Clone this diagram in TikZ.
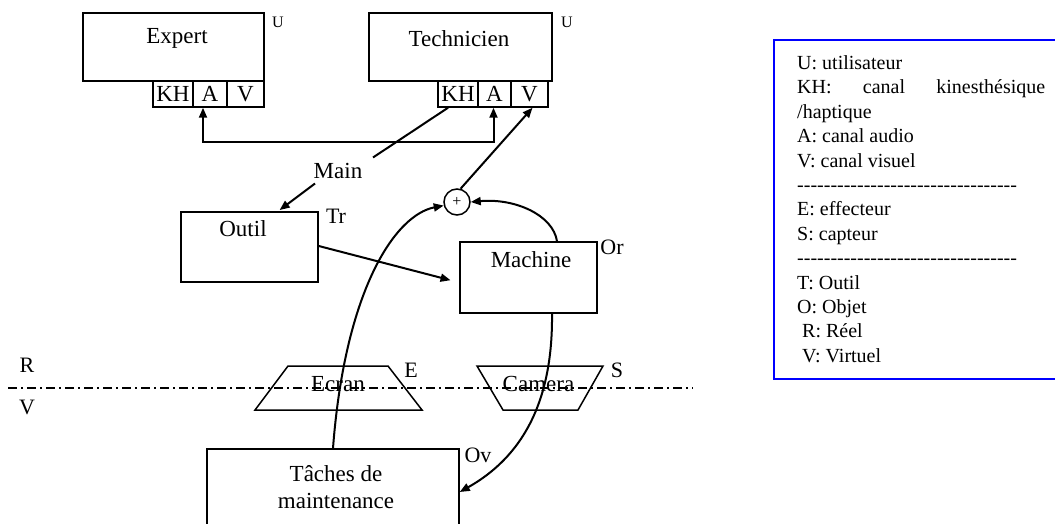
\documentclass[tikz,border=0pt]{standalone}
\usepackage{fontspec}
\setmainfont{Liberation Serif}
\usetikzlibrary{arrows.meta,calc}
\definecolor{legendblue}{RGB}{0,0,255}
\newcount\hycnt
\newcommand\dashrow{\hycnt=0 \loop\ifnum\hycnt<33 -\kern0pt\advance\hycnt by 1 \repeat}
\begin{document}
\begin{tikzpicture}[x=1pt,y=-1pt,
  box/.style={draw,line width=1.5pt,inner sep=0pt},
  lbl/.style={font=\fontsize{23}{27}\selectfont,inner sep=0pt},
  small/.style={font=\fontsize{22}{26}\selectfont,inner sep=0pt},
  tiny/.style={font=\fontsize{16}{19}\selectfont,inner sep=0pt},
  link/.style={line width=2pt},
  conn/.style={line width=2pt,-{Triangle[length=10pt,width=8pt]}},
  dconn/.style={line width=2pt,{Triangle[length=10pt,width=8pt]}-{Triangle[length=10pt,width=8pt]}},
  rvline/.style={line width=1.4pt,dash pattern=on 9pt off 4pt on 2pt off 4pt},
]
\useasboundingbox (0,0) rectangle (1055,524);
\clip (0,0) rectangle (1055,524);
\fill[white] (0,0) rectangle (1055,524);

% Expert
\node[box,minimum width=181pt,minimum height=68pt] (expert) at (173.5,47) {};
\node[lbl] (expertt) at (177,38.5) {Expert};
\node[box,lbl,minimum width=40pt,minimum height=26pt] (eKH) at (173,94) {KH};
\node[box,lbl,minimum width=34pt,minimum height=26pt] (eA) at (210,94) {A};
\node[box,lbl,minimum width=37pt,minimum height=26pt] (eV) at (245.5,94) {V};
\node[tiny] (eU) at (278,22) {U};

% Technicien
\node[box,minimum width=183pt,minimum height=68pt] (tech) at (460.5,47) {};
\node[lbl] (techt) at (459,38.5) {Technicien};
\node[box,lbl,minimum width=40pt,minimum height=26pt] (tKH) at (458,94) {KH};
\node[box,lbl,minimum width=33pt,minimum height=26pt] (tA) at (494.5,94) {A};
\node[box,lbl,minimum width=37pt,minimum height=26pt] (tV) at (529.5,94) {V};
\node[tiny] (tU) at (567,22) {U};

% audio link
\draw[dconn] ([xshift=-7pt]eA.south) -- ++(0,34) -| ([xshift=-1pt]tA.south);

% Main
\node[lbl] (main) at (338,170.5) {Main};
\draw[link] ([xshift=-10pt]tKH.south) -- ($(main.center)+(35,-13)$);

% Outil
\node[box,minimum width=137pt,minimum height=70pt] (outil) at (249.5,247) {};
\node[lbl] (outilt) at (243,229) {Outil};
\node[small] (tr) at (336,216) {Tr};
\draw[conn,shorten >=2pt] ($(main.center)+(-23,13)$) -- ($(outil.north)+(28.5,0)$);

% Machine
\node[box,minimum width=137pt,minimum height=71pt] (machine) at (528.5,277.5) {};
\node[lbl] (machinet) at (531,259.5) {Machine};
\node[small] (or) at (612,247) {Or};

% plus
\node[draw,circle,line width=1.5pt,minimum size=26pt,inner sep=0pt,font=\fontsize{16}{16}\selectfont] (plus) at (457,202) {+};
\draw[conn] (plus.75) -- ([xshift=3pt]tV.south);

% Outil -> Machine
\draw[conn,shorten >=9pt] ($(outil.east)+(0,-1)$) -- ($(machine.west)+(0,5)$);

% Machine -> plus
\draw[conn] ($(machine.north)+(28.5,0)$) .. controls (553,215) and (515,198) .. (plus.east);

% R / V line
\node[small] (rlbl) at (27,365) {R};
\node[small] (vlbl) at (27,407) {V};
\draw[rvline] (8,388) -- (693,388);

% Ecran
\draw[box] (288,366) -- (388,366) -- (422,410) -- (255,410) -- cycle;
\node[lbl] (ecran) at (338,384) {Ecran};
\node[small] (elbl) at (411,370) {E};

% Camera
\draw[box] (477,366) -- (603,366) -- (578,410) -- (503,410) -- cycle;
\node[lbl] (camera) at (538.5,384) {Camera};
\node[small] (slbl) at (617,370) {S};

% Taches
\node[box,minimum width=252pt,minimum height=111pt] (tasks) at (333,504.5) {};
\node[lbl,align=center] (taskst) at (336,487) {Tâches de\\maintenance};
\node[small] (ov) at (478,455) {Ov};

\draw[conn] (tasks.north) .. controls (345,290) and (395,215) .. (plus.195);
\draw[conn] ($(machine.south)+(23.5,0)$) .. controls (553,405) and (520,458) .. ($(tasks.east)+(0,-12.5)$);

% Legend
\draw[legendblue,line width=1.8pt] (774,40) rectangle (1070,379);
\node[anchor=base west,inner sep=0pt,font=\fontsize{20}{24.4}\selectfont] (legend) at (797,69.5)
{\parbox[t]{260pt}{\raggedright
U: utilisateur\\
\makebox[248pt][s]{KH: canal kinesthésique}\\
/haptique\\
A: canal audio\\
V: canal visuel\\
\dashrow\\
E: effecteur\\
S: capteur\\
\dashrow\\
T: Outil\\
O: Objet\\
\hspace*{5pt}R: Réel\\
\hspace*{5pt}V: Virtuel}};
\end{tikzpicture}
\end{document}
